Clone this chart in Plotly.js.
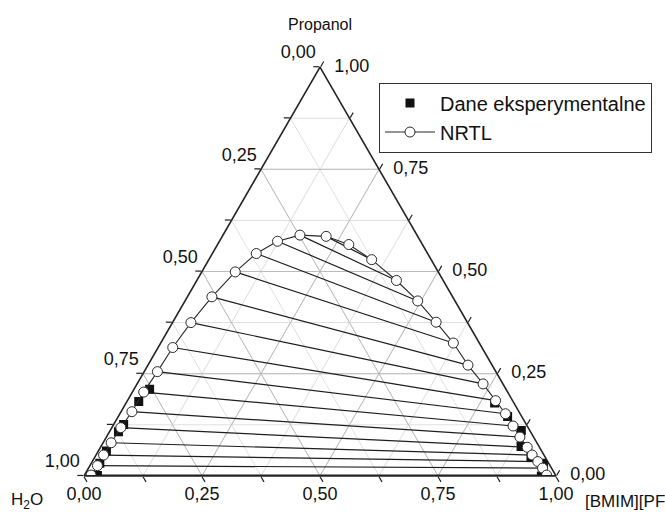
<!DOCTYPE html>
<html>
<head>
<meta charset="utf-8">
<script src="https://cdn.plot.ly/plotly-3.0.1.min.js"></script>
<style>
html,body{margin:0;padding:0;background:#fff;}
#chart{width:665px;height:512px;}
</style>
</head>
<body>
<div id="chart"></div>
<script>
// Ternary axes: a = Propanol (top), b = H2O (bottom-left), c = [BMIM][PF6] (bottom-right)
const gridVals = [0, 0.125, 0.25, 0.375, 0.5, 0.625, 0.75, 0.875, 1];
const majorGrid = [0.25, 0.5, 0.75];
const majorTicks = [0, 0.25, 0.5, 0.75, 1];
const majorTickText = ['0,00', '0,25', '0,50', '0,75', '1,00'];

// NRTL binodal – water-rich branch (top of curve to base), mole fractions
const nrtlLeftPropanol = [0.586, 0.589, 0.574, 0.544, 0.499, 0.438, 0.375, 0.314, 0.255, 0.205, 0.157, 0.118, 0.081, 0.051, 0.025, 0.002];
const nrtlLeftBmim     = [0.220, 0.163, 0.123, 0.093, 0.071, 0.052, 0.039, 0.031, 0.028, 0.024, 0.023, 0.019, 0.017, 0.016, 0.016, 0.014];
// NRTL binodal – IL-rich branch (tie-line partners of the points above)
const nrtlRightPropanol = [0.529, 0.478, 0.428, 0.376, 0.325, 0.271, 0.225, 0.184, 0.152, 0.122, 0.095, 0.070, 0.051, 0.035, 0.019, 0.002];
const nrtlRightBmim     = [0.345, 0.423, 0.493, 0.558, 0.620, 0.678, 0.733, 0.780, 0.817, 0.848, 0.876, 0.904, 0.924, 0.944, 0.962, 0.979];
// extra NRTL curve point near the top of the binodal
const nrtlTopPropanol = [0.566];
const nrtlTopBmim     = [0.278];

// Experimental points (Dane eksperymentalne)
const expPropanol = [0.212, 0.182, 0.126, 0.108, 0.061, 0.031, 0.001, 0.178, 0.145, 0.111, 0.072, 0.046, 0.031, 0.000];
const expBmim     = [0.033, 0.025, 0.021, 0.019, 0.017, 0.018, 0.028, 0.781, 0.825, 0.871, 0.890, 0.924, 0.958, 0.969];

function water(p, c) { return p.map((v, i) => +(1 - v - c[i]).toFixed(4)); }
function comp(arr) { return arr.map(v => +(1 - v).toFixed(4)); }
const zeros = majorTicks.map(() => 0);

const FONT = 'Liberation Sans, Arial, sans-serif';
const traces = [];

// darker major grid lines
majorGrid.forEach(v => {
  const lineStyle = {color: '#bcbcbc', width: 1};
  traces.push({type: 'scatterternary', mode: 'lines', a: [v, v], b: [1 - v, 0], c: [0, 1 - v], line: lineStyle, showlegend: false, hoverinfo: 'skip'});
  traces.push({type: 'scatterternary', mode: 'lines', b: [v, v], a: [1 - v, 0], c: [0, 1 - v], line: lineStyle, showlegend: false, hoverinfo: 'skip'});
  traces.push({type: 'scatterternary', mode: 'lines', c: [v, v], a: [1 - v, 0], b: [0, 1 - v], line: lineStyle, showlegend: false, hoverinfo: 'skip'});
});

// tie lines
for (let i = 0; i < nrtlLeftPropanol.length; i++) {
  const a = [nrtlLeftPropanol[i], nrtlRightPropanol[i]];
  const c = [nrtlLeftBmim[i], nrtlRightBmim[i]];
  traces.push({
    type: 'scatterternary', mode: 'lines', a: a, c: c, b: water(a, c),
    line: {color: '#1e1e1e', width: 1.2}, showlegend: false, hoverinfo: 'skip'
  });
}

// experimental
traces.push({
  type: 'scatterternary', mode: 'markers', name: 'Dane eksperymentalne',
  a: expPropanol, c: expBmim, b: water(expPropanol, expBmim),
  marker: {symbol: 'square', size: 9, color: '#111111', line: {width: 0}}
});

// NRTL binodal curve: base (water side) -> top -> base (IL side)
const cp = nrtlLeftPropanol.slice().reverse().concat(nrtlTopPropanol, nrtlRightPropanol);
const cc = nrtlLeftBmim.slice().reverse().concat(nrtlTopBmim, nrtlRightBmim);
traces.push({
  type: 'scatterternary', mode: 'lines+markers', name: 'NRTL',
  a: cp, c: cc, b: water(cp, cc),
  line: {color: '#2a2a2a', width: 1.1},
  marker: {symbol: 'circle', size: 10, color: '#ffffff', line: {color: '#2a2a2a', width: 1}}
});

// tick labels drawn through the ternary scales
const tickFont = {family: FONT, size: 18, color: '#111'};
const invisible = s => ({size: s, color: 'rgba(0,0,0,0)', line: {width: 0}});
// left edge: H2O fraction
traces.push({type: 'scatterternary', mode: 'markers+text', b: majorTicks, a: comp(majorTicks), c: zeros,
  text: majorTickText, textposition: 'top left', textfont: tickFont, marker: invisible(5),
  cliponaxis: false, showlegend: false, hoverinfo: 'skip'});
// bottom edge: [BMIM][PF6] fraction
traces.push({type: 'scatterternary', mode: 'markers+text', c: majorTicks, b: comp(majorTicks), a: zeros,
  text: majorTickText, textposition: 'bottom center', textfont: tickFont, marker: invisible(15),
  cliponaxis: false, showlegend: false, hoverinfo: 'skip'});
// right edge: Propanol fraction
traces.push({type: 'scatterternary', mode: 'markers+text', a: majorTicks, c: comp(majorTicks), b: zeros,
  text: majorTickText, textposition: 'middle right', textfont: tickFont, marker: invisible(21),
  cliponaxis: false, showlegend: false, hoverinfo: 'skip'});

function axis() {
  return {
    title: {text: ''},
    min: 0,
    tickmode: 'array', tickvals: gridVals,
    ticks: 'outside', ticklen: 6, tickwidth: 1.2, tickcolor: '#222',
    showticklabels: false,
    showline: true, linecolor: '#222', linewidth: 1.6,
    showgrid: true, gridcolor: '#e0e0e0', gridwidth: 1
  };
}

const layout = {
  width: 665, height: 512,
  margin: {l: 84, r: 109, t: 67, b: 36},
  paper_bgcolor: '#ffffff',
  font: {family: FONT, color: '#111'},
  showlegend: true,
  legend: {
    x: 0.625, y: 0.962, xanchor: 'left', yanchor: 'top',
    bgcolor: '#ffffff', bordercolor: '#333333', borderwidth: 1,
    font: {family: FONT, size: 20, color: '#111'},
    itemwidth: 50, tracegroupgap: 0
  },
  ternary: {
    sum: 1,
    bgcolor: 'rgba(0,0,0,0)',
    domain: {x: [0, 1], y: [0, 1]},
    aaxis: axis(),
    baxis: axis(),
    caxis: axis()
  },
  annotations: [
    {text: 'Propanol', xref: 'paper', yref: 'paper', x: 0.5, y: 1.105, xanchor: 'center', yanchor: 'middle',
     showarrow: false, font: {family: FONT, size: 16, color: '#111'}},
    {text: 'H<sub>2</sub>O', xref: 'paper', yref: 'paper', x: -0.121, y: -0.061, xanchor: 'center', yanchor: 'middle',
     showarrow: false, font: {family: FONT, size: 17, color: '#111'}},
    {text: '[BMIM][PF<sub>6</sub>]', xref: 'paper', yref: 'paper', x: 1.057, y: -0.067, xanchor: 'left', yanchor: 'middle',
     showarrow: false, font: {family: FONT, size: 17, color: '#111'}}
  ]
};

Plotly.newPlot('chart', traces, layout, {displayModeBar: false, staticPlot: true});
</script>
</body>
</html>
